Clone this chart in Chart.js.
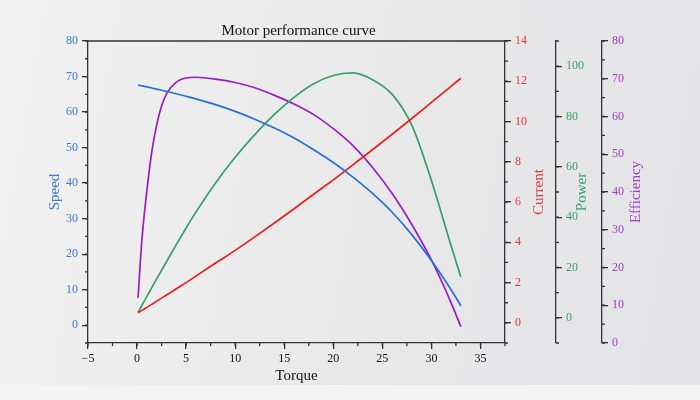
<!DOCTYPE html>
<html>
<head>
<meta charset="utf-8">
<script src="https://cdn.jsdelivr.net/npm/chart.js@4.4.1/dist/chart.umd.min.js"></script>
<style>
  html, body { margin: 0; padding: 0; }
  body {
    width: 700px; height: 400px; overflow: hidden;
    background: linear-gradient(to bottom, transparent 385px, #f3f3f4 385px),
      linear-gradient(100deg, #f1f1f2 0%, #eaeaeb 45%, #e3e3e5 100%);
  }
  #area { position: relative; width: 700px; height: 400px; }
</style>
</head>
<body>
<div id="area"><canvas id="curva"></canvas></div>
<script>
// valores
const torque = [0.1, 0.5, 1, 1.5, 2, 2.5, 3, 4, 5, 6, 8, 10, 12, 14, 16, 18, 20, 22, 24, 26, 28, 30, 32, 33];
const speed = [67.6, 67.37, 67.08, 66.78, 66.47, 66.15, 65.82, 65.15, 64.45, 63.72, 62.1, 60.2, 58.0, 55.5, 52.7, 49.4, 45.8, 41.7, 37.1, 31.8, 25.5, 18.2, 10.0, 5.5];
const current = [0.5, 0.62, 0.77, 0.92, 1.08, 1.23, 1.38, 1.69, 2.0, 2.32, 2.97, 3.6, 4.27, 4.96, 5.67, 6.39, 7.1, 7.85, 8.6, 9.37, 10.15, 10.95, 11.75, 12.15];
const power = [2.2, 5.0, 8.5, 12.0, 15.5, 18.9, 22.3, 29.1, 35.7, 42.0, 53.6, 63.8, 72.8, 80.8, 87.6, 93.0, 96.3, 97.3, 94.6, 88.8, 76.6, 54.6, 28.7, 16.2];
const efficiency = [12, 27.5, 40.3, 50.6, 57.8, 62.8, 66.0, 69.1, 70.2, 70.4, 69.9, 69.0, 67.6, 65.6, 63.3, 60.5, 56.8, 52.3, 46.5, 39.6, 31.4, 22.0, 10.7, 4.3];

const torqueTicks = [-5, 0, 5, 10, 15, 20, 25, 30, 35];
const speedTicks = [0, 10, 20, 30, 40, 50, 60, 70, 80];
const currentTicks = [0, 2, 4, 6, 8, 10, 12, 14];
const powerTicks = [0, 20, 40, 60, 80, 100];
const efficiencyTicks = [0, 10, 20, 30, 40, 50, 60, 70, 80];

const fonte = "'Liberation Serif', 'Times New Roman', serif";
const eixoCor = "#333";

const minorSteps = { x: 2.5, y: 5, current: 1, power: 10, eff: 5 };
const titulosY = [
  { id: "y", text: "Speed", color: "#3a78d4", dx: -33 },
  { id: "current", text: "Current", color: "#e0393d", dx: 34.5 },
  { id: "power", text: "Power", color: "#35a066", dx: 26.5 },
  { id: "eff", text: "Efficiency", color: "#a03ac8", dx: 34.5 },
];

function pares(ys) {
  return torque.map((t, i) => ({ x: t, y: ys[i] }));
}

function fmt(v) {
  return v < 0 ? "\u2212" + Math.abs(v) : String(v);
}

function eixoY(min, max, ticks, cor, largura, pos, peso) {
  return {
    type: "linear",
    position: pos,
    weight: peso,
    min: min,
    max: max,
    afterBuildTicks: (s) => { s.ticks = ticks.map((v) => ({ value: v })); },
    afterFit: (s) => { s.width = largura; },
    grid: { drawOnChartArea: false, tickLength: 6, color: eixoCor, lineWidth: 1.3 },
    border: { color: eixoCor, width: 1.3 },
    ticks: { color: cor, padding: 4, font: { family: fonte, size: 12 }, callback: fmt },
  };
}

const extras = {
  id: "extras",
  afterDraw(chart) {
    const ctx = chart.ctx;
    const area = chart.chartArea;
    ctx.save();
    ctx.strokeStyle = eixoCor;
    ctx.lineWidth = 1.3;

    ctx.beginPath();
    ctx.moveTo(area.left, area.top);
    ctx.lineTo(area.right, area.top);
    ctx.stroke();

    for (const id in minorSteps) {
      const s = chart.scales[id];
      ctx.beginPath();
      for (let v = s.min; v <= s.max + 1e-9; v += minorSteps[id]) {
        const p = s.getPixelForValue(v);
        if (s.isHorizontal()) {
          ctx.moveTo(p, s.top); ctx.lineTo(p, s.top + 3);
        } else if (s.position === "left") {
          ctx.moveTo(s.right, p); ctx.lineTo(s.right - 3, p);
        } else {
          ctx.moveTo(s.left, p); ctx.lineTo(s.left + 3, p);
        }
      }
      ctx.stroke();
    }

    ctx.textAlign = "center";
    ctx.textBaseline = "middle";
    ctx.font = "15px " + fonte;
    ctx.fillStyle = "#111";
    ctx.fillText("Motor performance curve", (area.left + area.right) / 2 + 2, 31);

    const cy = (area.top + area.bottom) / 2;
    titulosY.forEach((t) => {
      const s = chart.scales[t.id];
      const x = t.dx < 0 ? s.right + t.dx : s.left + t.dx;
      ctx.save();
      ctx.translate(x, cy);
      ctx.rotate(-Math.PI / 2);
      ctx.fillStyle = t.color;
      ctx.fillText(t.text, 0, 0);
      ctx.restore();
    });
    ctx.restore();
  },
};

function linha(label, ys, cor, eixo) {
  return {
    label: label,
    data: pares(ys),
    yAxisID: eixo,
    borderColor: cor,
    borderWidth: 1.7,
    pointRadius: 0,
    cubicInterpolationMode: "monotone",
    fill: false,
  };
}

new Chart(document.getElementById("curva"), {
  type: "line",
  data: {
    datasets: [
      linha("Speed", speed, "#2671d9", "y"),
      linha("Current", current, "#ee1c1c", "current"),
      linha("Power", power, "#35a066", "power"),
      linha("Efficiency", efficiency, "#9b1bc5", "eff"),
    ],
  },
  options: {
    responsive: true,
    maintainAspectRatio: false,
    animation: false,
    layout: { padding: { top: 41, right: 48, bottom: 0, left: 0 } },
    plugins: { legend: { display: false }, tooltip: { enabled: false } },
    scales: {
      x: {
        type: "linear",
        position: "bottom",
        min: -5,
        max: 37.5,
        afterBuildTicks: (s) => { s.ticks = torqueTicks.map((v) => ({ value: v })); },
        afterFit: (s) => { s.height = 57; },
        grid: { drawOnChartArea: false, tickLength: 6, color: eixoCor, lineWidth: 1.3 },
        border: { color: eixoCor, width: 1.3 },
        ticks: { color: "#111", padding: 3, maxRotation: 0, font: { family: fonte, size: 12 }, callback: fmt },
        title: {
          display: true,
          text: "Torque",
          color: "#111",
          font: { family: fonte, size: 15 },
          padding: { top: 0, bottom: 15 },
        },
      },
      y: eixoY(-5, 80, speedTicks, "#3a78d4", 88, "left", 1),
      current: eixoY(-1, 14, currentTicks, "#e0393d", 51, "right", 1),
      power: eixoY(-10, 110, powerTicks, "#35a066", 46, "right", 2),
      eff: eixoY(0, 80, efficiencyTicks, "#a03ac8", 50, "right", 3),
    },
  },
  plugins: [extras],
});
</script>
</body>
</html>
